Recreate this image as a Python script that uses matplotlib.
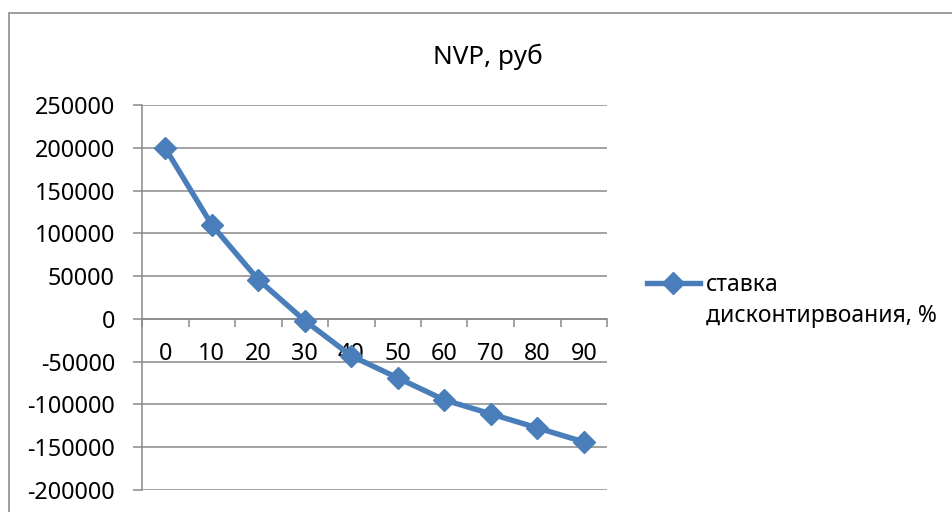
import matplotlib.pyplot as plt
from matplotlib.patches import Rectangle
import numpy as np

plt.rcParams['font.family'] = ['Noto Sans', 'DejaVu Sans']

# discount rate, % and NPV, rub
rates = ['0', '10', '20', '30', '40', '50', '60', '70', '80', '90']
npv = [199500, 109900, 45900, -2000, -43200, -69000, -94700, -111000, -127400, -143800]
y_ticks = list(range(-200000, 250001, 50000))

title = 'NVP, руб'
legend_line1 = 'ставка'
legend_line2 = 'дисконтирвоания, %'

blue = '#4A7EBB'
grid_gray = '#898989'

fig = plt.figure(figsize=(9.53, 5.12), dpi=100)
fig.patches.append(Rectangle((9 / 953, -0.1), 1.2, 1.1 - 13 / 512,
                             transform=fig.transFigure, fill=False,
                             edgecolor='#8c8c8c', linewidth=1.2))

ax = fig.add_axes([142 / 953, 1 - 490 / 512, (607 - 142) / 953, (490 - 105) / 512])

x = np.arange(len(rates))
line, = ax.plot(x, npv, color=blue, linewidth=3.9, marker='D', markersize=11.5,
                markerfacecolor=blue, markeredgecolor=blue, zorder=5, clip_on=False)

ax.set_xlim(-0.5, len(rates) - 0.5)
ax.set_ylim(y_ticks[0], y_ticks[-1])
ax.set_yticks(y_ticks)
ax.set_yticklabels([str(v) for v in y_ticks])
ax.grid(axis='y', color=grid_gray, linewidth=1.1)
ax.set_axisbelow(True)

# category labels between boundary ticks, axis crossing at zero
ax.set_xticks(np.arange(-0.5, len(rates)), labels=[''] * (len(rates) + 1))
ax.set_xticks(x, labels=rates, minor=True)
ax.tick_params(axis='x', which='major', direction='out', length=6,
               color=grid_gray, width=1.1)
ax.tick_params(axis='x', which='minor', length=0, pad=17, labelsize=16.8)
ax.tick_params(axis='y', direction='out', length=6.5, color=grid_gray,
               width=1.1, pad=13, labelsize=16.8)

for s in ['top', 'right']:
    ax.spines[s].set_visible(False)
ax.spines['bottom'].set_position(('data', 0))
ax.spines['bottom'].set_color(grid_gray)
ax.spines['bottom'].set_linewidth(1.1)
ax.spines['left'].set_color(grid_gray)
ax.spines['left'].set_linewidth(1.1)

fig.text(488 / 953, 1 - 64 / 512, title, ha='center', va='baseline', fontsize=18.8)

line.set_label(legend_line1)
fig.legend(handles=[line], loc='lower left', bbox_to_anchor=(647 / 953, 1 - 297 / 512),
           frameon=False, fontsize=16.5, handlelength=2.3, handletextpad=0.25,
           borderpad=0, borderaxespad=0)
fig.text(706 / 953, 1 - 322 / 512, legend_line2, ha='left', va='baseline', fontsize=16.5)

fig.savefig('out.png', dpi=100)
